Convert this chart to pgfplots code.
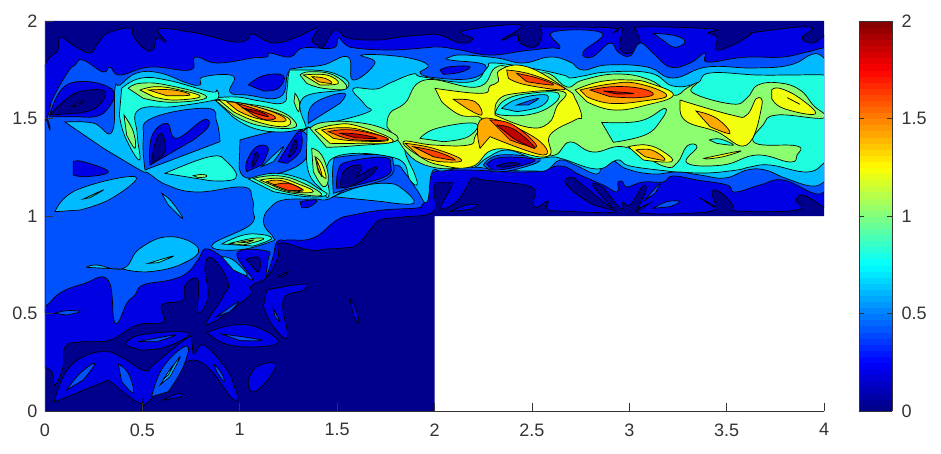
\documentclass[border=0pt]{standalone}
\usepackage{fontspec}
\setmainfont{Liberation Sans}
\usepackage{pgfplots}
\pgfplotsset{compat=1.18}
% contour levels, every 0.2
\definecolor{c0}{HTML}{00008C}
\definecolor{c1}{HTML}{0000E4}
\definecolor{c2}{HTML}{0052FF}
\definecolor{c3}{HTML}{00BBFF}
\definecolor{c4}{HTML}{1FFFE0}
\definecolor{c5}{HTML}{8CFF70}
\definecolor{c6}{HTML}{F2FF0D}
\definecolor{c7}{HTML}{FFAA00}
\definecolor{c8}{HTML}{FF4000}
\definecolor{c9}{HTML}{C00000}
% contour outlines are digitized in picture pixels, px = full picture, f = crop
\pgfplotsset{
  px/.style={x filter/.expression={(x-45)/194.75},y filter/.expression={(411-y)/195}},
  f/.style 2 args={x filter/.expression={(#1+x/3-45)/194.75},y filter/.expression={(411-#2-y/3)/195}},
}
\newcommand{\reg}[3]{\addplot[fill=c#1,draw=black,line width=0.7pt,smooth,tension=0.75,#2] coordinates {#3} --cycle;}
\begin{document}
\begin{tikzpicture}
\useasboundingbox (-45pt,-42pt) rectangle (896pt,411pt);
\begin{axis}[
  scale only axis, width=779pt, height=390pt, at={(0pt,0pt)}, anchor=south west,
  xmin=0, xmax=4, ymin=0, ymax=2,
  axis lines=left, axis line style={-,color=black!80,line width=0.6pt},
  axis on top, tick align=inside, major tick length=8pt,
  tick style={color=black!80,line width=0.6pt},
  xtick={0,0.5,...,4}, ytick={0,0.5,...,2},
  xticklabels={0,0.5,1,1.5,2,2.5,3,3.5,4}, yticklabels={0,0.5,1,1.5,2},
  tick label style={font=\fontsize{18}{20}\selectfont,color=black!80},
  xticklabel style={yshift=-9pt}, yticklabel style={xshift=-4pt},
  /pgf/number format/assume math mode=true,
  point meta min=0, point meta max=2,
  colormap/jet,
  colorbar sampled,
  colorbar style={samples=65, at={(1.0449,0)}, anchor=south west, width=33pt, height=390pt,
    ytick={0,0.5,...,2}, yticklabels={0,0.5,1,1.5,2}, major tick length=5pt,
    tick label style={font=\fontsize{18}{20}\selectfont,color=black!80},
    yticklabel style={xshift=6pt},
    axis line style={color=black!80}},
]
\addplot[fill=c0,draw=none] coordinates {(0,0)(2,0)(2,1)(4,1)(4,2)(0,2)} --cycle;

% 0.2
\reg{1}{px}{(45,65)(50,57)(58,50)(60,37)(73,45)(90,53)(98,43)(108,33)(130,28)(133,35)(143,48)(153,50)(157,38)(166,42)(159,29)(190,32)(213,37)(233,42)(247,40)(253,34)(273,43)(297,37)(317,28)(312,40)(317,45)(323,47)(335,30)(348,38)(377,40)(400,37)(423,35)(440,35)(460,43)(473,39)(463,31)(520,25)(502,40)(517,35)(520,43)(535,47)(542,35)(540,27)(550,27)(613,28)(613,33)(622,28)(620,48)(630,53)(640,42)(637,32)(642,27)(713,29)(708,33)(717,37)(717,50)(737,43)(750,35)(757,32)(810,27)(802,38)(813,43)(824,36)(826,40)(826,200)(824,207)(813,200)(802,195)(796,200)(797,210)(737,211)(733,205)(720,192)(712,192)(715,207)(700,198)(712,211)(640,213)(650,203)(638,210)(646,190)(642,187)(630,205)(623,202)(623,208)(618,206)(602,187)(593,186)(612,208)(580,183)(572,177)(566,184)(590,203)(615,212)(560,211)(547,209)(548,201)(537,207)(533,203)(533,188)(503,182)(483,180)(472,178)(466,188)(456,202)(441,208)(452,185)(447,183)(436,183)(434,192)(433,212)(403,217)(380,220)(370,230)(357,245)(343,248)(327,249)(310,250)(280,243)(278,257)(267,277)(251,286)(248,297)(207,325)(222,298)(228,282)(212,258)(205,267)(208,297)(198,312)(198,280)(185,285)(183,300)(162,305)(163,322)(137,325)(110,340)(80,342)(65,347)(63,367)(55,385)(52,372)(45,367)(43,360)(43,72)}
\reg{1}{f={40}{210}}{(42,577)(75,490)(130,440)(200,425)(250,445)(315,482)(345,460)(440,385)(455,395)(462,432)(490,405)(550,465)(580,520)(582,570)(458,450)(320,580)(310,565)(295,578)(205,510)}
\reg{1}{f={40}{210}}{(255,405)(300,375)(445,368)(380,410)(300,420)}
\reg{1}{f={40}{210}}{(500,368)(580,345)(660,355)(712,400)(600,410)(530,390)}
\reg{1}{f={40}{210}}{(370,570)(400,555)(425,550)(420,562)}
\reg{1}{f={40}{210}}{(625,510)(650,470)(705,460)(690,500)(645,545)(625,530)}
\reg{1}{f={40}{210}}{(680,240)(790,222)(790,240)(730,270)(742,380)(700,350)(670,290)}
\reg{1}{f={40}{210}}{(715,200)(745,185)(730,200)}
\reg{1}{f={330}{200}}{(60,298)(75,320)(87,370)(72,350)}
\reg{1}{f={270}{150}}{(540,185)(590,165)(625,165)(600,178)}
\reg{0}{f={40}{210}}{(618,148)(655,142)(660,175)(652,187)}
% 0.4
\reg{2}{px}{(50,110)(53,98)(68,72)(75,65)(83,60)(103,72)(110,67)(120,75)(150,67)(190,70)(195,57)(217,63)(253,58)(267,57)(270,53)(290,57)(303,48)(333,48)(338,38)(345,44)(355,48)(390,50)(423,48)(440,47)(460,50)(490,55)(523,51)(550,48)(560,47)(553,32)(602,33)(583,52)(592,57)(610,43)(618,52)(630,56)(640,43)(653,53)(670,67)(690,63)(705,53)(707,62)(737,58)(753,57)(783,57)(807,52)(824,48)(826,52)(826,188)(824,192)(813,193)(783,180)(760,185)(735,192)(727,185)(697,180)(673,176)(663,182)(643,182)(627,187)(623,182)(618,182)(617,192)(603,185)(580,175)(560,166)(530,172)(457,170)(430,175)(428,195)(422,205)(417,208)(383,210)(353,215)(337,220)(313,238)(287,240)(277,242)(273,257)(266,277)(268,260)(267,251)(237,253)(253,280)(235,267)(208,249)(198,260)(187,273)(170,280)(143,285)(135,295)(127,303)(115,323)(108,280)(83,284)(60,293)(47,305)(43,300)(43,135)(50,130)(47,118)}
\reg{2}{f={40}{210}}{(80,540)(120,490)(165,460)(130,510)}
\reg{2}{f={40}{210}}{(235,462)(265,490)(280,548)(245,515)}
\reg{2}{f={40}{210}}{(335,560)(370,470)(440,408)(430,470)(385,545)}
\reg{2}{f={40}{210}}{(522,462)(545,490)(552,515)(530,485)}
\reg{2}{f={40}{210}}{(45,310)(80,302)(120,305)(80,315)}
\reg{2}{f={40}{210}}{(530,320)(595,275)(570,305)}
\reg{2}{f={40}{210}}{(700,295)(720,335)(705,320)}
\reg{2}{f={40}{210}}{(295,395)(405,375)(350,395)}
\reg{2}{f={40}{210}}{(545,372)(665,390)(600,392)}
\reg{2}{f={550}{15}}{(310,55)(375,62)(405,80)(375,97)(345,80)}
\reg{2}{f={560}{150}}{(280,175)(320,155)(360,155)(330,170)}
\reg{2}{f={560}{150}}{(255,150)(300,100)(285,130)}
\reg{3}{f={40}{210}}{(360,525)(420,440)(390,500)}
\reg{4}{f={40}{210}}{(372,505)(400,465)(385,495)}
\reg{1}{f={40}{15}}{(780,560)(830,555)(810,575)(785,578)}
\reg{1}{f={40}{15}}{(100,440)(130,440)(205,470)(140,485)(100,480)}
\reg{1}{f={40}{15}}{(28,305)(85,207)(215,222)(190,295)(120,305)}
\reg{0}{f={40}{15}}{(30,300)(70,260)(120,230)(195,230)(165,280)(100,295)}
\reg{1}{f={40}{15}}{(95,275)(130,258)(115,272)}
\reg{1}{f={40}{15}}{(625,210)(670,182)(730,182)(715,220)(670,228)}
\reg{1}{f={440}{15}}{(0,165)(30,155)(90,155)(60,172)(10,178)}
% 0.6
\reg{3}{px}{(65,122)(93,123)(112,132)(115,88)(120,85)(137,73)(160,73)(187,83)(200,85)(203,77)(233,76)(230,92)(247,95)(280,97)(288,73)(297,68)(323,65)(348,57)(353,80)(375,63)(362,55)(403,57)(428,65)(420,73)(437,78)(473,78)(485,65)(450,60)(450,57)(463,55)(497,58)(523,63)(550,57)(570,62)(583,70)(607,65)(647,67)(673,78)(707,67)(753,68)(790,65)(813,54)(824,58)(826,62)(826,178)(824,182)(811,186)(785,178)(765,170)(747,170)(725,178)(700,175)(677,172)(653,174)(627,169)(612,160)(602,163)(597,174)(575,165)(560,160)(547,170)(533,171)(500,170)(470,167)(443,171)(432,172)(427,202)(417,190)(405,173)(395,165)(370,170)(333,197)(313,199)(283,200)(270,208)(264,217)(265,227)(273,237)(270,242)(237,250)(212,245)(250,225)(253,210)(252,198)(243,187)(197,192)(167,185)(148,173)(140,170)(103,148)}
\reg{3}{f={270}{150}}{(190,140)(270,110)(350,100)(395,115)(430,160)(340,155)}
\reg{3}{f={40}{15}}{(365,535)(395,560)(428,610)(385,570)}
\reg{3}{f={40}{15}}{(45,590)(110,525)(285,485)(215,550)(120,585)}
\reg{4}{f={40}{15}}{(130,552)(190,525)(150,548)}
\reg{3}{f={40}{210}}{(140,172)(170,165)(250,175)(300,115)(390,80)(475,115)(430,160)(330,185)(252,178)}
\reg{4}{f={40}{210}}{(325,160)(400,138)(355,158)}
\reg{3}{f={40}{210}}{(545,140)(580,150)(622,195)(580,180)}
\reg{4}{f={40}{210}}{(545,102)(600,78)(650,72)(695,85)(640,108)}
\reg{5}{f={40}{210}}{(570,100)(640,85)(670,88)(610,105)}
\reg{6}{f={40}{210}}{(600,97)(640,90)(620,98)}
% holes of level 0.4 and below inside the 0.6 band
\reg{2}{f={40}{15}}{(315,465)(310,370)(335,310)(500,280)(530,320)(540,380)}
\reg{1}{f={40}{15}}{(330,450)(335,365)(380,325)(410,370)(490,315)(505,335)(460,375)}
\reg{0}{f={40}{15}}{(335,445)(345,385)(365,355)(375,410)(340,440)}
\reg{2}{f={40}{15}}{(600,375)(780,345)(790,440)(630,490)(598,440)}
\reg{1}{f={40}{15}}{(620,470)(620,440)(650,395)(685,400)(665,450)}
\reg{0}{f={40}{15}}{(635,455)(645,415)(655,425)(640,455)}
\reg{3}{f={40}{15}}{(665,455)(730,395)(700,440)}
\reg{1}{f={40}{15}}{(715,440)(770,355)(785,360)(780,410)(740,445)}
\reg{0}{f={40}{15}}{(745,425)(765,375)(770,400)(750,425)}
\reg{2}{f={290}{15}}{(55,325)(60,280)(100,250)(165,235)(150,265)}
\reg{2}{f={270}{150}}{(190,130)(190,40)(215,20)(340,15)(370,40)(350,85)(230,118)}
\reg{1}{f={270}{150}}{(200,115)(205,60)(235,35)(340,22)(362,45)(345,80)(230,112)}
\reg{0}{f={270}{150}}{(212,110)(220,65)(260,45)(275,55)(260,80)(305,55)(320,55)(290,85)(225,115)}
\reg{2}{f={270}{150}}{(640,45)(690,15)(810,28)(730,60)(665,65)}
\reg{1}{f={270}{150}}{(650,42)(695,22)(795,30)(720,55)(665,60)}
\reg{0}{f={270}{150}}{(680,48)(715,38)(750,42)(700,52)}
% 0.8
\reg{4}{px}{(213,98)(237,97)(260,101)(283,103)(287,90)(289,73)(295,70)(333,73)(347,88)(303,98)(306,127)(307,128)(366,113)(365,105)(353,89)(376,89)(390,83)(413,74)(423,77)(470,82)(487,68)(493,63)(530,68)(563,75)(570,78)(583,76)(608,72)(650,73)(673,86)(697,83)(710,73)(757,75)(790,75)(824,75)(826,78)(826,160)(824,163)(807,172)(770,165)(750,167)(737,170)(707,173)(680,172)(667,171)(630,166)(617,160)(597,169)(563,159)(552,157)(533,158)(507,150)(487,158)(475,167)(467,165)(453,162)(440,158)(420,155)(405,150)(415,175)(417,185)(410,180)(395,158)(333,158)(329,195)(322,190)(308,170)(307,132)(305,129)(280,132)(253,128)(233,117)}
\reg{4}{f={40}{15}}{(375,475)(510,425)(560,440)(587,490)(510,497)}
\reg{5}{f={40}{15}}{(460,482)(490,478)(500,485)(475,488)}
\reg{4}{f={40}{15}}{(245,220)(300,190)(380,195)(510,230)(530,225)(535,248)(510,258)(400,275)(295,285)(292,360)(298,435)(255,365)(238,300)}
\reg{5}{f={40}{15}}{(265,220)(300,205)(380,210)(500,245)(400,262)(310,250)}
\reg{6}{f={40}{15}}{(300,225)(350,215)(420,225)(480,245)(400,255)(340,245)}
\reg{7}{f={40}{15}}{(325,225)(400,225)(450,240)(380,242)}
\reg{5}{f={40}{15}}{(252,300)(280,350)(285,400)(260,360)}
\reg{4}{f={40}{15}}{(625,492)(700,475)(780,490)(835,520)(860,540)(800,545)(700,530)}
\reg{5}{f={40}{15}}{(640,490)(710,482)(780,500)(845,540)(760,535)(700,520)}
\reg{6}{f={40}{15}}{(660,495)(720,490)(770,505)(820,530)(750,530)(700,512)}
\reg{7}{f={40}{15}}{(680,500)(725,497)(790,525)(750,527)(710,512)}
\reg{8}{f={40}{15}}{(700,510)(745,505)(785,525)(740,525)}
% 1.0
\reg{5}{px}{(387,127)(390,113)(405,103)(425,80)(477,87)(495,68)(510,67)(533,73)(550,74)(567,87)(583,80)(617,74)(650,80)(673,95)(687,88)(697,83)(693,93)(732,104)(747,98)(758,85)(780,83)(800,90)(813,105)(824,118)(777,115)(763,125)(755,143)(797,146)(797,155)(790,162)(757,155)(723,165)(687,163)(697,147)(687,146)(677,163)(663,166)(625,147)(593,152)(570,142)(555,155)(533,153)(497,147)(480,153)(457,168)(420,163)(400,143)}
\reg{4}{f={550}{15}}{(155,322)(270,318)(345,280)(330,320)(285,360)(190,382)}
\reg{4}{f={400}{50}}{(60,265)(110,235)(225,220)(205,260)(130,275)}
\reg{4}{f={550}{15}}{(478,375)(510,372)(550,390)(500,385)}
\reg{5}{f={290}{15}}{(60,340)(100,322)(200,322)(290,345)(318,378)(200,392)(110,397)}
\reg{6}{f={290}{15}}{(75,345)(130,330)(200,332)(310,378)(200,385)(120,385)}
\reg{7}{f={290}{15}}{(95,345)(150,338)(215,345)(295,375)(200,378)(130,370)}
\reg{8}{f={290}{15}}{(115,350)(190,345)(295,372)(200,375)(145,362)}
\reg{9}{f={290}{15}}{(150,355)(200,357)(260,370)(195,368)}
\reg{5}{f={200}{60}}{(45,120)(130,130)(230,150)(285,185)(270,205)(170,195)(100,165)}
\reg{6}{f={200}{60}}{(55,118)(130,133)(220,155)(270,180)(250,200)(170,185)(100,155)}
\reg{7}{f={200}{60}}{(80,125)(150,135)(240,165)(250,185)(170,175)(110,150)}
\reg{8}{f={200}{60}}{(110,130)(160,145)(225,170)(200,180)(160,165)}
\reg{9}{f={200}{60}}{(130,145)(180,155)(205,170)(165,160)}
\reg{5}{f={200}{60}}{(300,45)(330,35)(400,45)(440,85)(370,85)(320,70)}
\reg{6}{f={200}{60}}{(310,45)(380,45)(415,70)(360,75)}
\reg{7}{f={200}{60}}{(335,50)(375,55)(395,70)(355,65)}
\reg{5}{f={200}{60}}{(285,100)(298,125)(295,155)(282,125)}
\reg{5}{f={200}{60}}{(335,265)(365,285)(385,350)(370,380)(340,335)}
\reg{6}{f={200}{60}}{(345,290)(365,310)(378,355)(355,335)}
\reg{7}{f={200}{60}}{(350,300)(362,330)(365,350)(352,320)}
% 1.2 and above, right of the middle
\reg{6}{f={400}{50}}{(105,115)(245,130)(270,108)(295,95)(300,60)(380,50)(500,118)(525,145)(545,200)(525,210)(450,255)(440,320)(290,297)(215,350)(120,345)(60,320)(10,275)(100,285)(205,285)(225,260)(245,205)(180,195)(125,155)}
\reg{5}{f={400}{50}}{(285,190)(295,150)(350,130)(490,125)(470,170)(445,220)(385,232)(285,195)}
\reg{4}{f={400}{50}}{(285,190)(315,150)(390,130)(475,130)(450,170)(380,195)(300,195)}
\reg{3}{f={400}{50}}{(305,175)(345,150)(410,135)(445,140)(420,170)(350,185)}
\reg{2}{f={400}{50}}{(350,165)(415,145)(385,165)}
\reg{7}{f={400}{50}}{(160,148)(225,155)(245,195)(200,175)}
\reg{7}{f={400}{50}}{(240,295)(250,205)(400,260)(430,315)(270,260)}
\reg{8}{f={400}{50}}{(270,210)(340,225)(410,290)(330,270)}
\reg{9}{f={400}{50}}{(290,225)(345,240)(405,295)(340,265)}
\reg{7}{f={400}{50}}{(320,60)(400,75)(495,118)(380,105)(325,85)}
\reg{8}{f={400}{50}}{(350,70)(415,85)(460,105)(380,95)}
\reg{7}{f={400}{50}}{(15,280)(100,295)(185,330)(120,335)(60,320)}
\reg{8}{f={400}{50}}{(40,290)(110,305)(165,330)(100,320)}
\reg{6}{f={550}{15}}{(390,255)(545,300)(590,300)(620,250)(635,275)(590,390)(500,350)(410,320)(390,280)}
\reg{7}{f={550}{15}}{(438,288)(500,310)(540,355)(480,335)}
\reg{6}{f={550}{15}}{(75,225)(150,200)(240,195)(300,205)(370,240)(290,270)(190,285)(110,260)}
\reg{7}{f={550}{15}}{(90,225)(180,207)(260,205)(350,240)(280,258)(180,265)(110,245)}
\reg{8}{f={550}{15}}{(120,225)(190,215)(270,220)(310,238)(260,248)(180,245)}
\reg{9}{f={550}{15}}{(160,228)(250,235)(200,237)}
\reg{6}{f={550}{15}}{(665,225)(690,220)(750,250)(795,297)(700,280)(665,250)}
\reg{7}{f={550}{15}}{(712,248)(750,268)(725,255)}
\reg{6}{f={550}{15}}{(235,395)(290,390)(340,410)(365,440)(280,435)}
\reg{7}{f={550}{15}}{(258,405)(305,405)(345,435)(285,425)}
\reg{6}{f={550}{15}}{(462,430)(570,408)(520,425)(470,432)}
\end{axis}
\end{tikzpicture}
\end{document}
